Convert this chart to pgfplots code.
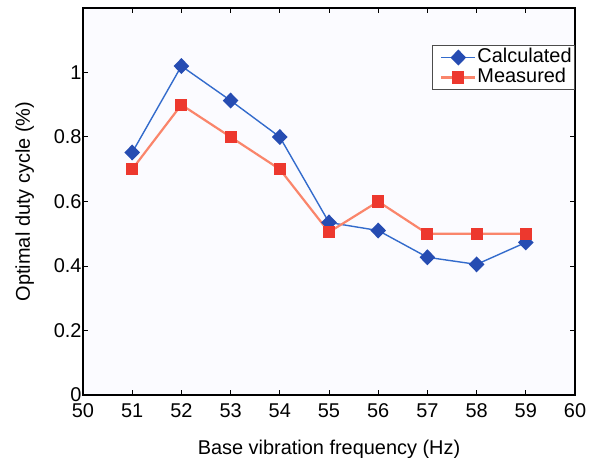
\documentclass[border=0pt]{standalone}
\usepackage{pgfplots}
\pgfplotsset{compat=1.18}
\usepackage{fontspec}
\setmainfont{Liberation Sans}
\definecolor{cline}{rgb}{0.20,0.42,0.80}
\definecolor{cmark}{rgb}{0.15,0.30,0.70}
\definecolor{mline}{rgb}{0.98,0.52,0.42}
\definecolor{mmark}{rgb}{0.93,0.22,0.18}
\begin{document}
\begin{tikzpicture}
\begin{axis}[
  name=ax,
  scale only axis,
  width=492bp, height=387bp,
  xmin=50, xmax=60, ymin=0, ymax=1.2,
  xtick={50,51,...,60},
  ytick={0,0.2,0.4,0.6,0.8,1},
  yticklabels={0,0.2,0.4,0.6,0.8,1},
  tick align=inside,
  major tick length=5bp,
  tick style={black, line width=1pt},
  axis line style={black, line width=1.2pt},
  axis background/.style={fill={rgb,1:red,0.985;green,0.985;blue,1}},
  font=\fontsize{20}{23}\selectfont,
  /pgf/number format/assume math mode=true,
  xticklabel style={yshift=-5bp},
  yticklabel style={xshift=2bp},
  xlabel={Base vibration frequency (Hz)},
  ylabel={Optimal duty cycle (\%)},
  xlabel style={yshift=-16bp},
  ylabel style={yshift=13bp},
  legend style={at={(1,0.904)}, anchor=north east, draw=black!70, line width=0.8pt,
    font=\fontsize{20}{20}\selectfont, inner sep=2bp, row sep=0bp,
    nodes={text height=14bp, text depth=4bp, inner sep=1bp},
    fill=white},
  legend cell align=left,
  legend image code/.code={
    \path (-6bp,0bp);
    \draw[mark repeat=2,mark phase=2,#1]
      plot coordinates {(0bp,0bp) (17bp,0bp) (34bp,0bp)};
  },
]
\addplot[cline, line width=1.4pt, mark=diamond*, mark size=7bp,
  mark options={fill=cmark, draw=cmark, solid, xscale=1.3}]
  coordinates {(51,0.752) (52,1.02) (53,0.913) (54,0.80) (55,0.535) (56,0.51) (57,0.427) (58,0.405) (59,0.473)};
\addlegendentry{Calculated}
\addplot[mline, line width=2.2pt, mark=square*, mark size=5bp,
  mark options={fill=mmark, draw=mmark, solid}]
  coordinates {(51,0.70) (52,0.90) (53,0.80) (54,0.70) (55,0.505) (56,0.60) (57,0.50) (58,0.50) (59,0.50)};
\addlegendentry{Measured}
\coordinate (O) at (rel axis cs:0,0);
\end{axis}
\pgfresetboundingbox
\path ([shift={(-83bp,-63bp)}]O) rectangle ++(590bp,458bp);
\end{tikzpicture}
\end{document}
